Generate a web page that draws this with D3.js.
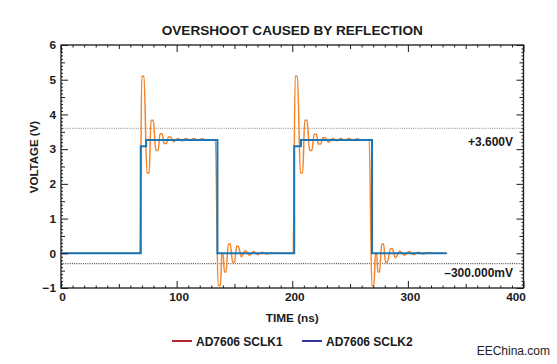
<!DOCTYPE html>
<html><head><meta charset="utf-8">
<script src="https://cdn.jsdelivr.net/npm/d3@7"></script>
<style>
html,body{margin:0;padding:0;background:#fff;}
svg{display:block;}
text{font-family:"Liberation Sans",Arial,Helvetica,sans-serif;}
</style></head>
<body>
<svg id="chart" width="557" height="364"></svg>
<script>
// ---- data ----
const title = "OVERSHOOT CAUSED BY REFLECTION";
const xTickValues = [0, 100, 200, 300, 400];
const yTickValues = [-1, 0, 1, 2, 3, 4, 5, 6];
const seriesNames = ["AD7606 SCLK1", "AD7606 SCLK2"];
// SCLK2 (blue step trace): time (ns) and voltage (V)
const sclk2Time = [0, 69, 73.6, 135.3, 201.7, 207.5, 269, 333.5];
const sclk2Volt = [0, 3.08, 3.26, 0, 3.08, 3.26, 0, 0];
// SCLK1 (orange ringing trace): start/end of each ringing tip
const sclk1Time = [0, 68.3, 69.8, 71.8, 74.3, 76.3, 77.8, 79.8, 82.0, 84.0, 85.6, 87.6, 89.0, 91.0, 92.9, 94.9,
  97.5, 101, 104.5, 108, 111.5, 115, 118.5, 122, 126, 133.6,
  135.8, 137.9, 139.1, 140.1, 141.3, 142.7, 144.7, 146.3, 148.5, 150.1, 151.9, 153.3, 156, 159.5, 163, 166.5, 170, 174, 178, 182, 186, 200.8,
  202.5, 204.5, 207.0, 209.0, 210.8, 212.8, 215.0, 217.0, 218.9, 220.9, 222.6, 224.6, 226.5, 228.5,
  231.3, 235, 238.5, 242, 245.5, 249, 252.5, 256, 260, 266.6,
  268.8, 270.6, 272.0, 273.0, 274.0, 275.4, 277.4, 279.0, 280.6, 282.2, 284.9, 286.5, 289.2, 293, 297, 301, 305, 309, 313, 318, 323, 334];
const sclk1Volt = [0, 0, 5.1, 5.1, 2.31, 2.31, 3.83, 3.83, 2.96, 2.96, 3.44, 3.44, 3.16, 3.16, 3.35, 3.35,
  3.21, 3.31, 3.24, 3.31, 3.25, 3.31, 3.25, 3.30, 3.26, 3.26,
  -0.93, -0.93, 0.0, 0.0, -0.54, -0.54, 0.27, 0.27, -0.26, -0.26, 0.2, 0.2, -0.1, 0.08, -0.06, 0.05, -0.04, 0.03, -0.02, 0.02, 0, 0,
  5.1, 5.1, 2.31, 2.31, 3.83, 3.83, 2.96, 2.96, 3.43, 3.43, 3.15, 3.15, 3.33, 3.33,
  3.2, 3.31, 3.24, 3.31, 3.25, 3.31, 3.25, 3.30, 3.26, 3.26,
  -0.93, -0.93, 0.0, 0.0, -0.54, -0.54, 0.27, 0.27, -0.26, -0.26, 0.13, 0.13, -0.13, 0.06, -0.06, 0.05, -0.04, 0.03, -0.02, 0.02, 0, 0];
const refLevels = [3.6, -0.3];
const refLabels = ["+3.600V", "\u2013300.000mV"];
const xTitle = "TIME (ns)";
const yTitle = "VOLTAGE (V)";
const watermark = "EEChina.com";

// ---- layout ----
const svg = d3.select("#chart");
const L = 61, R = 523.5, T = 45, B = 288;
const x = d3.scaleLinear().domain([0, 400]).range([L, R]);
const y = d3.scaleLinear().domain([-1, 6]).range([B, T]);
const ink = "#1a1a1a";
const fontB = "bold";

// title
svg.append("text").attr("x", (L + R) / 2).attr("y", 34.5).attr("text-anchor", "middle")
  .attr("font-size", 13.6).attr("font-weight", fontB).attr("fill", ink).text(title);

// reference dotted lines
const refColors = ["#8a8a8a", "#333"];
svg.selectAll(".ref").data(refLevels).enter().append("line")
  .attr("x1", L).attr("x2", R).attr("y1", d => y(d)).attr("y2", d => y(d))
  .attr("stroke", (d, i) => refColors[i]).attr("stroke-width", 1).attr("stroke-dasharray", "1,1.2");

// traces
const pts1 = sclk1Time.map((t, i) => [t, sclk1Volt[i]]);
const pts2 = sclk2Time.map((t, i) => [t, sclk2Volt[i]]);
svg.append("path").datum(pts1).attr("fill", "none").attr("stroke", "#f5852b").attr("stroke-width", 1.5)
  .attr("stroke-linejoin", "round")
  .attr("d", d3.line().x(d => x(d[0])).y(d => y(d[1])).curve(d3.curveMonotoneX));
svg.append("path").datum(pts2).attr("fill", "none").attr("stroke", "#1a76b6").attr("stroke-width", 2)
  .attr("d", d3.line().x(d => x(d[0])).y(d => y(d[1])).curve(d3.curveStepAfter));

// reference labels
svg.selectAll(".refl").data(refLevels).enter().append("text")
  .attr("x", 513).attr("y", (d, i) => i === 0 ? y(d) + 17.5 : y(d) + 13.5)
  .attr("text-anchor", "end").attr("font-size", 12).attr("font-weight", fontB).attr("fill", ink)
  .text((d, i) => refLabels[i]);

// axes with inward ticks
const fmt = d3.format("d");
function axisGroup(makeAxis, transform, values, size, labels) {
  const a = makeAxis().tickValues(values).tickSizeInner(-size).tickSizeOuter(0).tickPadding(5);
  a.tickFormat(labels ? fmt : "");
  const g = svg.append("g").attr("transform", transform).call(a);
  g.select(".domain").remove();
  g.selectAll("line").attr("stroke", ink).attr("stroke-width", 1);
  return g;
}
const xMinor = d3.range(0, 401, 10).filter(v => v % 50 !== 0);
const xMid = d3.range(50, 400, 100);
const yMinor = d3.range(-10, 61, 1).filter(v => v % 5 !== 0).map(v => v / 10);
const yMid = d3.range(-5, 60, 10).map(v => v / 10);

const axesSpec = [
  [() => d3.axisBottom(x), `translate(0,${B})`, true, xMinor, xMid, xTickValues, 2.5],
  [() => d3.axisTop(x), `translate(0,${T})`, false, xMinor, xMid, xTickValues, 2.5],
  [() => d3.axisLeft(y), `translate(${L},0)`, true, yMinor, yMid, yTickValues, 2],
  [() => d3.axisRight(y), `translate(${R},0)`, false, yMinor, yMid, yTickValues, 2]
];
axesSpec.forEach(([mk, tr, lab, minor, mid, major, mlen], k) => {
  axisGroup(mk, tr, minor, mlen, false);
  axisGroup(mk, tr, mid, 4, false);
  const g = axisGroup(mk, tr, major, 7, lab);
  if (lab) {
    const t = g.selectAll("text").attr("font-size", 11.8).attr("font-weight", fontB).attr("fill", ink)
      .attr("font-family", '"Liberation Sans",Arial,sans-serif');
    if (k === 0) t.attr("dx", d => d === 400 ? -8 : (d === 0 ? 1 : 2));
  }
});

// frame
svg.append("rect").attr("x", L).attr("y", T).attr("width", R - L).attr("height", B - T)
  .attr("fill", "none").attr("stroke", ink).attr("stroke-width", 1.3);

// axis titles
svg.append("text").attr("x", (L + R) / 2).attr("y", 322).attr("text-anchor", "middle")
  .attr("font-size", 11.8).attr("font-weight", fontB).attr("fill", ink).text(xTitle);
svg.append("text").attr("transform", `translate(38,157) rotate(-90)`).attr("text-anchor", "middle")
  .attr("font-size", 11.5).attr("font-weight", fontB).attr("fill", ink).text(yTitle);

// legend
const legColors = ["#b3262b", "#34349a"];
const legX = [172, 302];
const lg = svg.selectAll(".leg").data(seriesNames).enter().append("g")
  .attr("transform", (d, i) => `translate(${legX[i]},341)`);
lg.append("line").attr("x1", 0).attr("x2", 20).attr("y1", 0).attr("y2", 0)
  .attr("stroke", (d, i) => legColors[i]).attr("stroke-width", 2);
lg.append("text").attr("x", 24).attr("y", 4.5).attr("font-size", 12).attr("font-weight", fontB)
  .attr("fill", ink).text(d => d);

// watermark
svg.append("text").attr("x", 550).attr("y", 355).attr("text-anchor", "end")
  .attr("font-size", 12).attr("fill", "#222").text(watermark);
</script>
</body></html>
